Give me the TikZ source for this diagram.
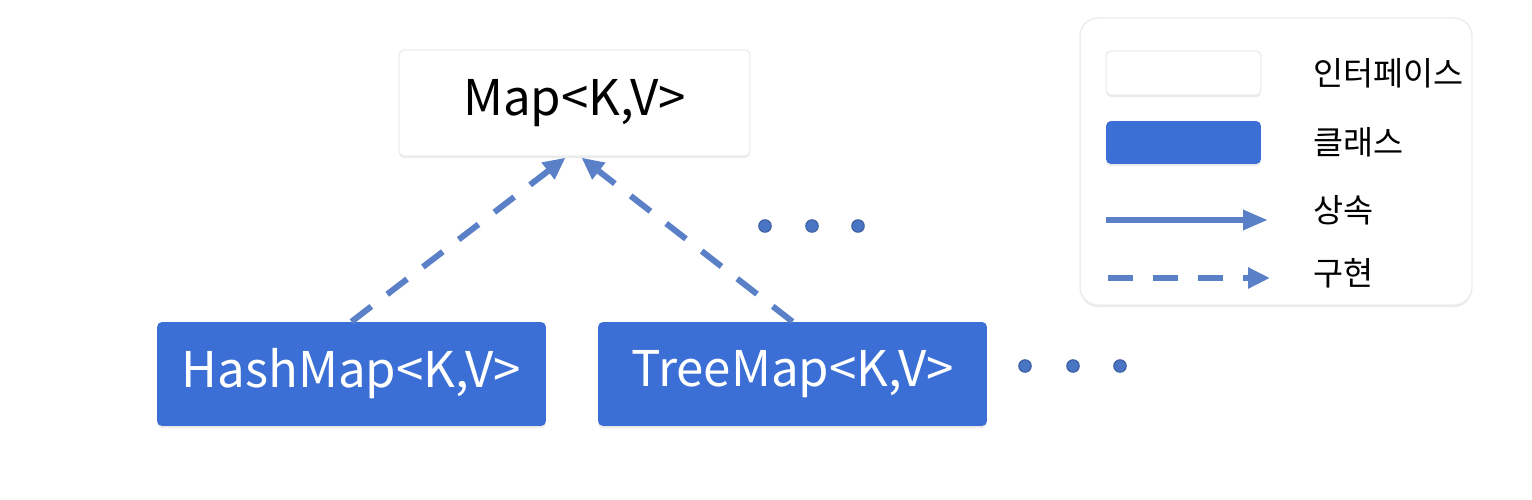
\documentclass[tikz,border=0pt]{standalone}
\usepackage{fontspec}
\setmainfont{Noto Sans CJK KR}
\usetikzlibrary{arrows.meta,shadows,positioning}
\definecolor{clsblue}{HTML}{3B6FD6}
\definecolor{arrblue}{HTML}{5A80C8}
\definecolor{dotblue}{HTML}{4A74C4}

\tikzset{
  softshadow/.style={drop shadow={opacity=0.16,shadow xshift=0pt,shadow yshift=-1.2pt}},
  iface/.style={fill=white,draw=black!7,line width=0.8pt,rounded corners=0.1cm,softshadow,
    inner sep=0pt,font=\fontsize{28}{33}\selectfont},
  cls/.style={fill=clsblue,rounded corners=0.1cm,softshadow,inner sep=0pt,text=white,
    font=\fontsize{28}{33}\selectfont},
  impl/.style={arrblue,line width=0.12cm,dash pattern=on 0.5cm off 0.4cm,
    -{Triangle[length=0.44cm,width=0.4cm]}},
  inh/.style={arrblue,line width=0.12cm,-{Triangle[length=0.5cm,width=0.38cm]}},
  ellip/.style={circle,fill=dotblue,draw=dotblue!80!black,line width=0.6pt,
    inner sep=0pt,minimum size=0.25cm},
  legtext/.style={anchor=west,inner sep=0pt,font=\fontsize{18.6}{22}\selectfont}
}

\begin{document}
\begin{tikzpicture}[x=0.02cm,y=-0.02cm]
  \useasboundingbox (0,0) rectangle (1532,500);
  % interface and classes
  \node[iface,minimum width=7.02cm,minimum height=2.12cm] (map) at (574.5,103) {Map<K,V>};
  \node[cls,minimum width=7.78cm,minimum height=2.08cm] (hashmap) at (351.5,374) {HashMap<K,V>};
  \node[cls,minimum width=7.78cm,minimum height=2.08cm] (treemap) at (792.5,374) {TreeMap<K,V>};
  \draw[impl] (hashmap.north) -- ([xshift=-0.18cm,yshift=-0.02cm]map.south);
  \draw[impl] (treemap.north) -- ([xshift=0.14cm,yshift=-0.02cm]map.south);
  \node[ellip] (m1) at (765,226) {};
  \node[ellip] (m2) at (812,226) {};
  \node[ellip] (m3) at (858,226) {};
  \node[ellip] (c1) at (1025,366) {};
  \node[ellip] (c2) at (1073,366) {};
  \node[ellip] (c3) at (1120,366) {};
  % legend
  \node[fill=white,draw=black!7,line width=0.8pt,rounded corners=0.36cm,softshadow,
    minimum width=7.84cm,minimum height=5.74cm] (legend) at (1276,161.5) {};
  \node[iface,minimum width=3.1cm,minimum height=0.88cm] (legiface) at (1183.5,73) {};
  \node[cls,minimum width=3.1cm,minimum height=0.86cm] (legcls) at (1183.5,142.5) {};
  \coordinate (inhA) at (1106,220);
  \coordinate (inhB) at (1268,220);
  \coordinate (implA) at (1108,278);
  \coordinate (implB) at (1270,278);
  \draw[inh] (inhA) -- (inhB);
  \draw[impl] (implA) -- (implB);
  \node[legtext] (t1) at (1313,73) {인터페이스};
  \node[legtext] (t2) at (1313,142) {클래스};
  \node[legtext] (t3) at (1313,210) {상속};
  \node[legtext] (t4) at (1313,273) {구현};
\end{tikzpicture}
\end{document}
